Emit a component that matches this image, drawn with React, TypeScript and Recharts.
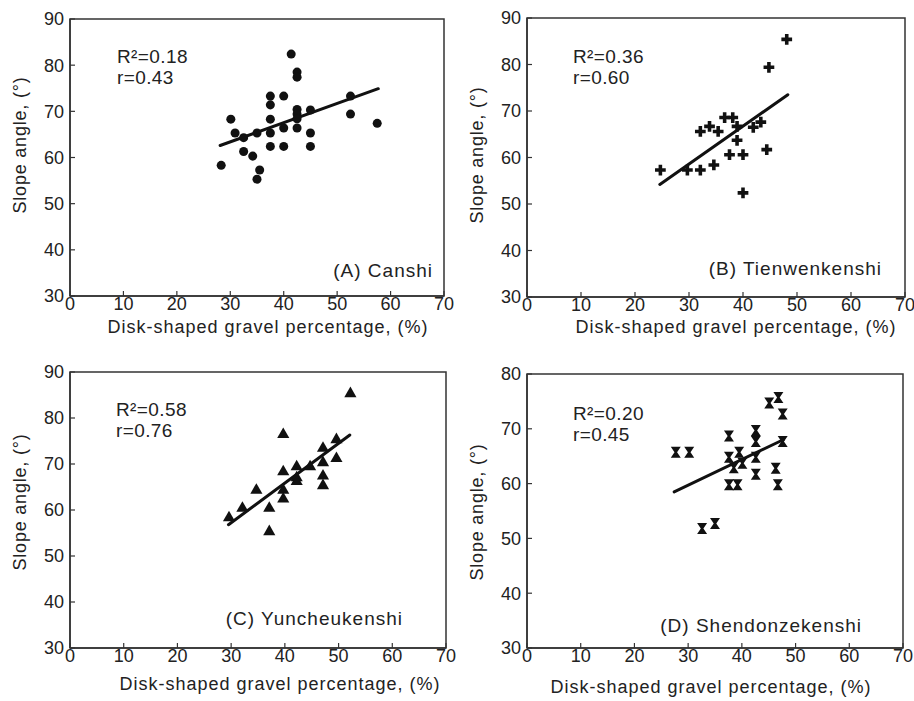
import React from 'react';
import {
  ScatterChart,
  Scatter,
  XAxis,
  YAxis,
  ZAxis,
  ReferenceArea,
  ReferenceLine,
} from 'recharts';

// tick labels
const xTicks = [0, 10, 20, 30, 40, 50, 60, 70];
const yTicks90 = [30, 40, 50, 60, 70, 80, 90];
const yTicks80 = [30, 40, 50, 60, 70, 80];

// (A) Canshi
const canshiX = [41.4, 42.5, 42.5, 37.5, 40.0, 37.5, 30.1, 37.5, 42.5, 42.5, 45.0, 42.5, 52.5, 52.5, 57.5, 30.9, 32.5, 35.0, 37.5, 40.0, 42.5, 45.0, 37.5, 40.0, 45.0, 32.5, 34.2, 28.3, 35.5, 35.0];
const canshiY = [82.4, 78.5, 77.4, 73.3, 73.3, 71.4, 68.3, 68.3, 70.4, 69.4, 70.3, 68.4, 73.3, 69.4, 67.4, 65.3, 64.3, 65.3, 65.3, 66.4, 66.4, 65.3, 62.4, 62.4, 62.4, 61.3, 60.3, 58.3, 57.3, 55.3];
const canshiFitX = [28.1, 57.7];
const canshiFitY = [62.6, 74.9];

// (B) Tienwenkenshi
const tienX = [48.1, 44.8, 36.6, 38.1, 33.8, 38.9, 32.1, 35.4, 41.9, 43.3, 38.9, 37.5, 40.0, 44.4, 24.7, 29.7, 32.1, 34.6, 40.0];
const tienY = [85.4, 79.4, 68.6, 68.6, 66.7, 66.7, 65.6, 65.6, 66.5, 67.6, 63.7, 60.6, 60.6, 61.7, 57.3, 57.3, 57.3, 58.4, 52.4];
const tienFitX = [24.6, 48.3];
const tienFitY = [54.2, 73.5];

// (C) Yuncheukenshi
const yunX = [52.2, 39.7, 49.6, 47.1, 47.1, 49.6, 42.2, 44.7, 39.7, 42.2, 42.2, 47.1, 47.1, 34.7, 39.7, 39.7, 32.1, 37.1, 29.6, 37.1];
const yunY = [85.3, 76.4, 75.3, 73.4, 70.3, 71.2, 69.4, 69.4, 68.3, 67.0, 66.2, 67.4, 65.3, 64.3, 64.3, 62.4, 60.4, 60.4, 58.3, 55.3];
const yunFitX = [29.5, 52.1];
const yunFitY = [56.8, 76.3];

// (D) Shendonzekenshi
const shenX = [46.8, 45.1, 47.6, 42.6, 37.6, 42.6, 47.6, 27.7, 30.2, 39.5, 37.6, 42.6, 40.1, 38.5, 42.6, 46.3, 37.6, 39.2, 46.7, 32.6, 35.0];
const shenY = [75.7, 74.7, 72.7, 69.7, 68.7, 67.7, 67.7, 65.7, 65.7, 65.7, 64.8, 64.8, 63.7, 62.9, 61.7, 62.8, 59.8, 59.8, 59.8, 51.8, 52.7];
const shenFitX = [27.4, 47.7];
const shenFitY = [58.5, 68.0];

const FONT = '"Liberation Sans", Arial, Helvetica, sans-serif';
const INK = '#222';

const zip = (xs: number[], ys: number[]) => xs.map((x, i) => ({ x, y: ys[i] }));

const Hourglass = (props: any) => {
  const { cx, cy } = props;
  if (cx == null || cy == null) return null;
  const d = `M${cx - 5},${cy - 5.5}H${cx + 5}L${cx + 1.3},${cy}L${cx + 5},${cy + 5.5}H${cx - 5}L${cx - 1.3},${cy}Z`;
  return <path d={d} fill="#111" />;
};

type PanelProps = {
  plotLeft: number;
  plotTop: number;
  plotW: number;
  plotH: number;
  yMax: number;
  yTicks: number[];
  xs: number[];
  ys: number[];
  fitX: number[];
  fitY: number[];
  shape: any;
  size: number;
  r2: string;
  r: string;
  name: string;
  nameDx: number;
  nameDy: number;
  statDx: number;
  statDy: number;
  xTitleDx: number;
  xTitleDy: number;
  yTitleX: number;
  yTitleY: number;
};

const Panel: React.FC<PanelProps> = (p) => {
  const chartLeft = p.plotLeft - 70;
  const chartTop = p.plotTop - 20;
  const W = p.plotW + 80;
  const H = p.plotH + 90;
  const pl = 70;
  const pt = 20;
  const pb = 20 + p.plotH;
  const pr = 70 + p.plotW;
  const yc = p.yTitleY - chartTop;
  const xc = p.yTitleX - chartLeft;
  const data = zip(p.xs, p.ys);
  return (
    <div style={{ position: 'absolute', left: chartLeft, top: chartTop }}>
      <ScatterChart width={W} height={H} margin={{ top: 20, right: 10, bottom: 25, left: 10 }}>
        <XAxis
          type="number"
          dataKey="x"
          domain={[0, 70]}
          ticks={xTicks}
          interval={0}
          allowDataOverflow
          height={45}
          tickSize={-5}
          tickMargin={6}
          axisLine={{ stroke: '#333', strokeWidth: 1.5 }}
          tickLine={{ stroke: '#333', strokeWidth: 1.2 }}
          tick={{ fill: INK, fontSize: 18, fontFamily: FONT }}
        />
        <YAxis
          type="number"
          dataKey="y"
          domain={[30, p.yMax]}
          ticks={p.yTicks}
          interval={0}
          allowDataOverflow
          width={60}
          tickSize={-5}
          tickMargin={11}
          axisLine={{ stroke: '#333', strokeWidth: 1.5 }}
          tickLine={{ stroke: '#333', strokeWidth: 1.2 }}
          tick={{ fill: INK, fontSize: 18, fontFamily: FONT }}
        />
        <ZAxis range={[p.size, p.size]} />
        <ReferenceArea
          x1={0}
          x2={70}
          y1={30}
          y2={p.yMax}
          fill="none"
          stroke="#333"
          strokeWidth={1.5}
          ifOverflow="visible"
        />
        <Scatter data={data} shape={p.shape} fill="#111" isAnimationActive={false} />
        <ReferenceLine
          segment={[
            { x: p.fitX[0], y: p.fitY[0] },
            { x: p.fitX[1], y: p.fitY[1] },
          ]}
          stroke="#111"
          strokeWidth={3}
          strokeLinecap="round"
        />
        <text x={pl + p.statDx} y={pt + p.statDy} fill={INK} fontSize={19} fontFamily={FONT} letterSpacing={0.4}>
          {p.r2}
        </text>
        <text x={pl + p.statDx} y={pt + p.statDy + 21} fill={INK} fontSize={19} fontFamily={FONT} letterSpacing={0.4}>
          {p.r}
        </text>
        <text x={pr + p.nameDx} y={pb + p.nameDy} fill={INK} fontSize={19} fontFamily={FONT} textAnchor="end" letterSpacing={1}>
          {p.name}
        </text>
        <text
          x={pl + p.plotW / 2 + p.xTitleDx}
          y={pb + p.xTitleDy}
          fill={INK}
          fontSize={18}
          fontFamily={FONT}
          textAnchor="middle"
          letterSpacing={1}
        >
          Disk-shaped gravel percentage, (%)
        </text>
        <text
          x={xc}
          y={yc}
          transform={`rotate(-90, ${xc}, ${yc})`}
          fill={INK}
          fontSize={18}
          fontFamily={FONT}
          textAnchor="middle"
          dominantBaseline="central"
          letterSpacing={0.8}
        >
          Slope angle, (°)
        </text>
      </ScatterChart>
    </div>
  );
};

const App: React.FC = () => {
  return (
    <div style={{ position: 'absolute', left: 0, top: 0, width: 914, height: 701, background: '#fff' }}>
      <Panel
        plotLeft={70} plotTop={19} plotW={374} plotH={277} yMax={90} yTicks={yTicks90}
        xs={canshiX} ys={canshiY} fitX={canshiFitX} fitY={canshiFitY}
        shape="circle" size={64}
        r2="R²=0.18" r="r=0.43" name="(A) Canshi"
        nameDx={-11} nameDy={-19} statDx={47} statDy={44}
        xTitleDx={11} xTitleDy={37} yTitleX={20} yTitleY={145}
      />
      <Panel
        plotLeft={527} plotTop={18} plotW={378} plotH={279} yMax={90} yTicks={yTicks90}
        xs={tienX} ys={tienY} fitX={tienFitX} fitY={tienFitY}
        shape="cross" size={60}
        r2="R²=0.36" r="r=0.60" name="(B) Tienwenkenshi"
        nameDx={-23} nameDy={-22} statDx={46} statDy={45}
        xTitleDx={20} xTitleDy={36} yTitleX={477} yTitleY={155}
      />
      <Panel
        plotLeft={70} plotTop={372} plotW={376} plotH={276} yMax={90} yTicks={yTicks90}
        xs={yunX} ys={yunY} fitX={yunFitX} fitY={yunFitY}
        shape="triangle" size={45}
        r2="R²=0.58" r="r=0.76" name="(C) Yuncheukenshi"
        nameDx={-43} nameDy={-23} statDx={46} statDy={44}
        xTitleDx={22} xTitleDy={42} yTitleX={20} yTitleY={502}
      />
      <Panel
        plotLeft={527} plotTop={374} plotW={376} plotH={274} yMax={80} yTicks={yTicks80}
        xs={shenX} ys={shenY} fitX={shenFitX} fitY={shenFitY}
        shape={Hourglass} size={64}
        r2="R²=0.20" r="r=0.45" name="(D) Shendonzekenshi"
        nameDx={-41} nameDy={-16} statDx={46} statDy={46}
        xTitleDx={-4} xTitleDy={45} yTitleX={477} yTitleY={512}
      />
    </div>
  );
};

export default App;
